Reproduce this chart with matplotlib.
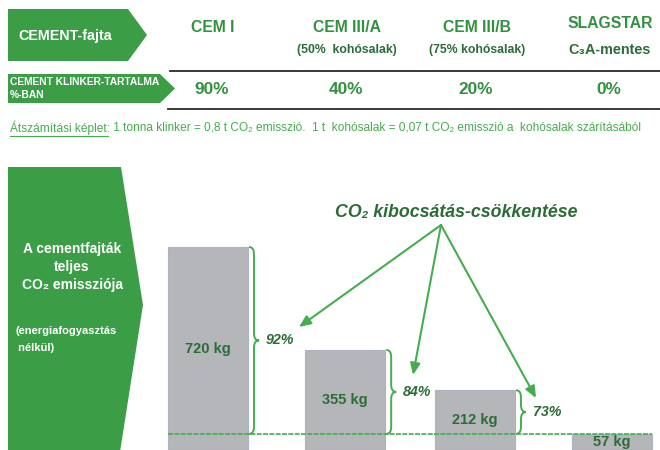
import matplotlib
matplotlib.use("Agg")
import matplotlib.pyplot as plt
from matplotlib.patches import Polygon, PathPatch
from matplotlib.path import Path

# ---------------- data ----------------
categories = ["CEM I", "CEM III/A", "CEM III/B", "SLAGSTAR"]
subtitles = ["", "(50%  kohósalak)", "(75% kohósalak)", "C₃A-mentes"]
clinker_share = ["90%", "40%", "20%", "0%"]
emission_kg = [720, 355, 212, 57]
emission_labels = ["720 kg", "355 kg", "212 kg", "57 kg"]
reduction_labels = ["92%", "84%", "73%"]
row1_label = "CEMENT-fajta"
row2_label = ["CEMENT KLINKER-TARTALMA", "%-BAN"]
formula_head = "Átszámítási képlet:"
formula_rest = (" 1 tonna klinker = 0,8 t CO₂ emisszió.  1 t  kohósalak = 0,07 t CO₂ "
                "emisszió a  kohósalak szárításából")
side_label = ["A cementfajták", "teljes", "CO₂ emissziója"]
side_note = ["(energiafogyasztás", " nélkül)"]
callout = "CO₂ kibocsátás-csökkentése"

# ---------------- style ----------------
GREEN = "#3b9e47"
HEAD_GREEN = "#32913f"
DARK_GREEN = "#2b6c37"
LIGHT_GREEN = "#46ad4f"
BAR_GRAY = "#b4b6b9"
FONT = ["Liberation Sans", "DejaVu Sans"]
plt.rcParams["font.family"] = FONT

W, H = 660, 450
fig = plt.figure(figsize=(W / 100, H / 100), dpi=100)

# bar axes (category units horizontally, kg vertically)
spacing = 134.5
c0 = 208.0
ax = fig.add_axes([0, 0, 1, 1])
ax.set_xlim(-c0 / spacing, (W - c0) / spacing)
kg_per_px = 720 / 203.0
ax.set_ylim(0, H * kg_per_px)
ax.axis("off")

# overlay axes in pixel coordinates
ov = fig.add_axes([0, 0, 1, 1], zorder=5)
ov.set_xlim(0, W)
ov.set_ylim(H, 0)
ov.axis("off")
ov.patch.set_alpha(0)

# ---------------- header table ----------------
ov.add_patch(Polygon([(8, 9), (128, 9), (147, 35), (128, 61), (8, 61)],
                     closed=True, color=GREEN, lw=0))
ov.text(18, 36, row1_label, color="white", fontsize=10.3, fontweight="bold",
        ha="left", va="center")
ov.add_patch(Polygon([(8, 74), (160, 74), (175, 88.5), (160, 103), (8, 103)],
                     closed=True, color=GREEN, lw=0))
ov.text(10, 82, row2_label[0], color="white", fontsize=7.4, fontweight="bold",
        ha="left", va="center")
ov.text(10, 94.5, row2_label[1], color="white", fontsize=7.4, fontweight="bold",
        ha="left", va="center")

ov.plot([170, 660], [71, 71], color="#2a2a2a", lw=1.3)
ov.plot([168, 660], [109, 109], color="#2a2a2a", lw=1.3)

head_x = [213, 347, 477, 610]
head_y = [27, 27, 27, 24]
for i, name in enumerate(categories):
    ov.text(head_x[i], head_y[i], name, color=HEAD_GREEN, fontsize=11.3,
            fontweight="bold", ha="center", va="center")
    if subtitles[i]:
        fs = 8.8 if i < 3 else 10.4
        ov.text(head_x[i], 50, subtitles[i], color=DARK_GREEN, fontsize=fs,
                fontweight="bold", ha="center", va="center")
    ov.text(head_x[i] - 1, 90, clinker_share[i], color=HEAD_GREEN, fontsize=12.4,
            fontweight="bold", ha="center", va="center")

# formula line
t_head = ov.text(10, 128, formula_head, color=LIGHT_GREEN, fontsize=8.55,
                 ha="left", va="center")
fig.canvas.draw()
renderer = fig.canvas.get_renderer()
bb = t_head.get_window_extent(renderer)
inv = ov.transData.inverted()
(x0u, y0u), (x1u, y1u) = inv.transform([(bb.x0, bb.y0), (bb.x1, bb.y0)])
ov.plot([x0u, x1u - 2], [y0u + 0.5, y0u + 0.5], color=LIGHT_GREEN, lw=0.8)
ov.annotate(formula_rest, xy=(1, 0.5), xycoords=t_head, va="center",
            ha="left", color=LIGHT_GREEN, fontsize=8.55,
            annotation_clip=False)

# ---------------- left label block ----------------
ov.add_patch(Polygon([(8, 167), (121, 167), (143, 305), (120, 452), (8, 452)],
                     closed=True, color=GREEN, lw=0))
for txt, yy in zip(side_label, [249, 267, 285]):
    ov.text(72, yy, txt, color="white", fontsize=10, fontweight="bold",
            ha="center", va="center")
for txt, yy in zip(side_note, [331, 348]):
    ov.text(15, yy, txt, color="white", fontsize=8, fontweight="bold",
            ha="left", va="center")

# ---------------- bars ----------------
bw = 80 / spacing
xs = [0, 1.02, 1.985, 3.0]
ax.bar(xs, emission_kg, width=bw, color=BAR_GRAY, edgecolor="#aeb2c6",
       linewidth=0.8, zorder=2)
for x, v, lab in zip(xs, emission_kg, emission_labels):
    ax.text(x, v / 2, lab, color=DARK_GREEN, fontsize=10.5, fontweight="bold",
            ha="center", va="center", zorder=4)

base = emission_kg[-1]
ax.plot([-bw / 2, xs[-1] + bw / 2], [base, base], color=LIGHT_GREEN, lw=1.2,
        ls=(0, (3, 0.8)), zorder=3)


def brace(x0, y0, y1, w, r):
    ym = (y0 + y1) / 2
    xm = x0 + w / 2
    verts = [(x0, y1), (xm, y1), (xm, y1 - r),
             (xm, ym + r), (xm, ym), (x0 + w, ym),
             (xm, ym), (xm, ym - r),
             (xm, y0 + r), (xm, y0), (x0, y0)]
    codes = [Path.MOVETO, Path.CURVE3, Path.CURVE3,
             Path.LINETO, Path.CURVE3, Path.CURVE3,
             Path.CURVE3, Path.CURVE3,
             Path.LINETO, Path.CURVE3, Path.CURVE3]
    return PathPatch(Path(verts, codes), fill=False, edgecolor=LIGHT_GREEN,
                     lw=1.4, zorder=4)


bwid = 10 / spacing
rad = 7 * kg_per_px
for i, lab in enumerate(reduction_labels):
    xe = xs[i] + bw / 2 + 1 / spacing
    ax.add_patch(brace(xe, base, emission_kg[i], bwid, rad))
    ym = (base + emission_kg[i]) / 2
    ax.text(xe + bwid + 7 / spacing, ym, lab, color=DARK_GREEN, fontsize=10.3,
            fontweight="bold", fontstyle="italic", ha="left", va="center",
            zorder=4)

# ---------------- call-out ----------------
ov.text(456, 212, callout, color=DARK_GREEN, fontsize=12.8, fontweight="bold",
        fontstyle="italic", ha="center", va="center")
apex = (441, 225)
arrow_tips = [(299, 327), (413, 375), (536, 398)]
for tip in arrow_tips:
    ov.annotate("", xy=tip, xytext=apex,
                arrowprops=dict(arrowstyle="-|>,head_length=0.7,head_width=0.3",
                                color=LIGHT_GREEN, lw=1.5, shrinkA=0, shrinkB=0))

fig.savefig("out.png", dpi=100)
